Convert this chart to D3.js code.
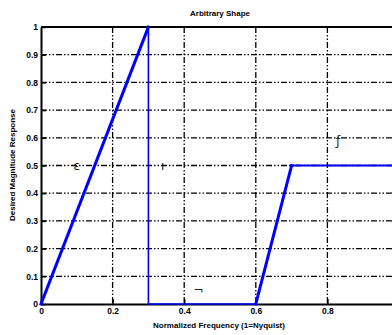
<!DOCTYPE html>
<html><head><meta charset="utf-8">
<script src="https://cdn.jsdelivr.net/npm/d3@7"></script>
<style>body{margin:0;background:#fff}svg{display:block}text{font-family:"Liberation Sans",Arial,sans-serif;font-weight:bold;fill:#000}</style>
</head><body>
<script>
const freqs = [0, 0.3, 0.3, 0.6, 0.7, 1.0];
const mags  = [0, 1.0, 0, 0, 0.5, 0.5];
const xTicks = [0, 0.2, 0.4, 0.6, 0.8, 1.0];
const yTicks = [0, 0.1, 0.2, 0.3, 0.4, 0.5, 0.6, 0.7, 0.8, 0.9, 1];
const noteText = ["ε", "ı", "¬", "ƒ"];
const noteX = [0.1, 0.34, 0.44, 0.83];
const noteY = [0.5, 0.5, 0.05, 0.59];
const title = "Arbitrary Shape";
const xLabel = "Normalized Frequency (1=Nyquist)";
const yLabel = "Desired Magnitude Response";

const W = 392, H = 335;
const svg = d3.select("body").append("svg").attr("width", W).attr("height", H);
const x = d3.scaleLinear().domain([0, 1]).range([41, 399]);
const y = d3.scaleLinear().domain([0, 1]).range([304, 27]);
const fmt = d => d === 0 ? "0" : d === 1 ? "1" : String(d);

// grid
const dash = "6,2,1.5,2,1.5,2";
svg.append("g").selectAll("line").data(yTicks.filter(d => d > 0 && d < 1)).join("line")
  .attr("x1", x(0)).attr("x2", W).attr("y1", d => y(d)).attr("y2", d => y(d))
  .attr("stroke", "#000").attr("stroke-width", 1.3).attr("stroke-dasharray", dash);
svg.append("g").selectAll("line").data(xTicks.filter(d => d > 0 && d < 1)).join("line")
  .attr("x1", d => x(d)).attr("x2", d => x(d)).attr("y1", y(1)).attr("y2", y(0))
  .attr("stroke", "#000").attr("stroke-width", 1.3).attr("stroke-dasharray", dash);

// axes
const xAxis = d3.axisBottom(x).tickValues(xTicks.filter(d => d < 1)).tickFormat(fmt).tickSizeInner(-5).tickSizeOuter(0).tickPadding(6);
const gx = svg.append("g").attr("transform", `translate(0,${y(0)})`).call(xAxis);
const yAxis = d3.axisLeft(y).tickValues(yTicks).tickFormat(fmt).tickSizeInner(-5).tickSizeOuter(0).tickPadding(3);
const gy = svg.append("g").attr("transform", `translate(${x(0)},0)`).call(yAxis);
[gx, gy].forEach(g => {
  g.select(".domain").attr("stroke", "#000").attr("stroke-width", 2);
  g.selectAll(".tick line").attr("stroke", "#000").attr("stroke-width", 1.5);
  g.selectAll("text").style("font-size", "8.5px").style("font-family", "'Liberation Sans',Arial,sans-serif").style("font-weight", "bold").attr("fill", "#000");
});
gx.selectAll(".tick text").attr("dy", "0.5em");
// top border
svg.append("line").attr("x1", x(0)).attr("x2", W).attr("y1", y(1)).attr("y2", y(1))
  .attr("stroke", "#000").attr("stroke-width", 2);

// response segments
const pts = freqs.map((f, i) => [f, mags[i]]);
const segW = [3, 1.6, 1.6, 3, 2.2];
for (let i = 0; i < pts.length - 1; i++) {
  svg.append("line")
    .attr("x1", x(pts[i][0])).attr("y1", y(pts[i][1]))
    .attr("x2", x(pts[i + 1][0])).attr("y2", y(pts[i + 1][1]))
    .attr("stroke", "#0000ff").attr("stroke-width", segW[i]).attr("stroke-linecap", "square");
}

// annotations
svg.append("g").selectAll("text").data(noteText).join("text")
  .attr("x", (d, i) => x(noteX[i])).attr("y", (d, i) => y(noteY[i]))
  .attr("text-anchor", "middle").attr("dy", "0.35em")
  .style("font-family", "'DejaVu Sans',sans-serif")
  .style("font-size", "12px").style("font-weight", "normal").style("fill", "#222").text(d => d);

// titles
svg.append("text").attr("x", 220).attr("y", 16).attr("text-anchor", "middle").style("font-size", "8px").text(title);
svg.append("text").attr("x", 219).attr("y", 328).attr("text-anchor", "middle").style("font-size", "8px").text(xLabel);
svg.append("text").attr("transform", "translate(15,165) rotate(-90)").attr("text-anchor", "middle").style("font-size", "8px").text(yLabel);
</script>
</body></html>
